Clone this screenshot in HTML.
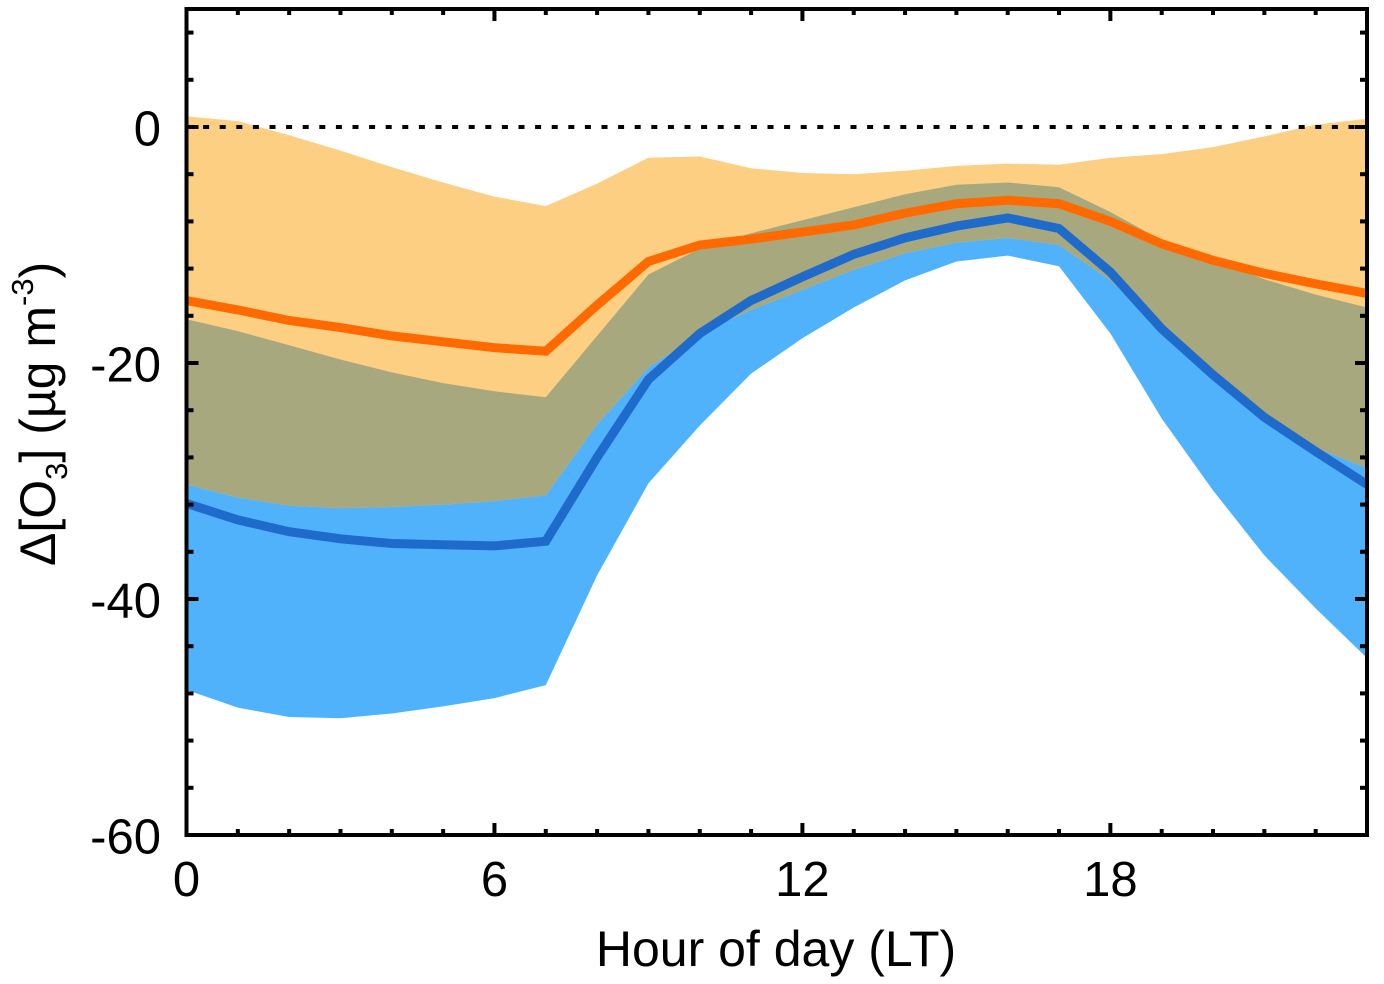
<!DOCTYPE html>
<html lang="en">
<head>
<meta charset="utf-8">
<title>Hourly ozone change</title>
<style>
html,body{margin:0;padding:0;background:#fff;}
svg{display:block;}
text{font-family:"Liberation Sans",sans-serif;fill:#000;}
</style>
</head>
<body>
<svg id="chart" xmlns="http://www.w3.org/2000/svg" width="1384" height="984" viewBox="0 0 1384 984">
  <defs>
    <clipPath id="plot-clip"><rect x="186.5" y="9" width="1181" height="826"/></clipPath>
    <clipPath id="orange-band-clip"><polygon id="orange-clip-shape" points=""/></clipPath>
  </defs>
  <g id="plot" clip-path="url(#plot-clip)"></g>
  <g id="axes"></g>
  <text x="776" y="966" text-anchor="middle" font-size="50">Hour of day (LT)</text>
  <text transform="translate(55,566) rotate(-90)" font-size="50">Δ[O<tspan font-size="31" dy="12">3</tspan><tspan dy="-12">] (µg m</tspan><tspan font-size="31" dy="-22">-3</tspan><tspan dy="22">)</tspan></text>
</svg>
<script>
const hours = [0,1,2,3,4,5,6,7,8,9,10,11,12,13,14,15,16,17,18,19,20,21,22,23];
const orangeUpper = [0.9,0.5,-0.7,-2,-3.4,-4.7,-5.9,-6.7,-4.8,-2.6,-2.5,-3.5,-3.9,-4,-3.7,-3.3,-3.1,-3.2,-2.6,-2.3,-1.7,-0.8,0.2,0.7];
const orangeLower = [-30.3,-31.4,-32.1,-32.3,-32.2,-32,-31.7,-31.2,-25.2,-20.4,-17.5,-15.5,-13.8,-12.1,-10.7,-9.8,-9.4,-10,-13,-17.1,-21,-24.6,-27.2,-28.9];
const blueUpper = [-16.3,-17.3,-18.5,-19.7,-20.8,-21.7,-22.4,-22.9,-17.7,-12.5,-10.3,-9,-7.9,-6.8,-5.7,-4.9,-4.7,-5.1,-7.2,-9.6,-11.2,-12.9,-14.2,-15.3];
const blueLower = [-47.7,-49.2,-50,-50.1,-49.7,-49.1,-48.4,-47.3,-38,-30.2,-25.3,-20.9,-17.9,-15.3,-13,-11.4,-10.9,-11.8,-17.5,-24.7,-30.8,-36.3,-40.8,-45];
const orangeMean = [-14.7,-15.5,-16.4,-17,-17.7,-18.2,-18.7,-19,-15.1,-11.4,-10,-9.5,-8.9,-8.3,-7.3,-6.5,-6.2,-6.5,-8,-9.9,-11.3,-12.4,-13.3,-14.1];
const blueMean = [-31.9,-33.3,-34.3,-34.9,-35.3,-35.4,-35.5,-35.1,-28,-21.4,-17.5,-14.7,-12.7,-10.8,-9.4,-8.4,-7.7,-8.6,-12.3,-17.1,-21,-24.6,-27.5,-30.3];
const xTickLabels = [0,6,12,18];
const yTickLabels = [0,-20,-40,-60];

const NS = 'http://www.w3.org/2000/svg';
const xScale = h => 186.5 + h * (1367 - 186.5) / 23;
const yScale = v => 127 - v * 11.8;
const plot = document.getElementById('plot');
const axes = document.getElementById('axes');

function make(tag, parent) {
  const el = document.createElementNS(NS, tag);
  parent.appendChild(el);
  return el;
}
function linePoints(series) {
  return series.map((v, i) => xScale(hours[i]).toFixed(1) + ',' + yScale(v).toFixed(1)).join(' ');
}
function bandPoints(upper, lower) {
  return linePoints(upper) + ' ' + lower.map((v, i) => [xScale(hours[i]).toFixed(1), yScale(v).toFixed(1)].join(',')).reverse().join(' ');
}

const blueBand = make('polygon', plot);


blueBand.setAttribute('points', bandPoints(blueUpper, blueLower));
blueBand.setAttribute('fill', '#50B2FB');

const orangeBand = make('polygon', plot);


orangeBand.setAttribute('points', bandPoints(orangeUpper, orangeLower));
orangeBand.setAttribute('fill', '#FDCF83');

document.getElementById('orange-clip-shape').setAttribute('points', bandPoints(orangeUpper, orangeLower));

const overlapBand = make('polygon', plot);


overlapBand.setAttribute('points', bandPoints(blueUpper, blueLower));
overlapBand.setAttribute('clip-path', 'url(#orange-band-clip)');
overlapBand.setAttribute('fill', '#A8A87F');

const zeroLine = make('line', plot);


zeroLine.setAttribute('x1', xScale(0));
zeroLine.setAttribute('x2', xScale(23));
zeroLine.setAttribute('y1', yScale(0));
zeroLine.setAttribute('y2', yScale(0));
zeroLine.setAttribute('stroke', '#000');
zeroLine.setAttribute('stroke-width', '4');
zeroLine.setAttribute('stroke-dasharray', '6 10.6');

const blueLine = make('polyline', plot);


blueLine.setAttribute('points', linePoints(blueMean));
blueLine.setAttribute('fill', 'none');
blueLine.setAttribute('stroke', '#1F6BCB');
blueLine.setAttribute('stroke-width', '9');
blueLine.setAttribute('stroke-linejoin', 'miter');

const orangeLine = make('polyline', plot);


orangeLine.setAttribute('points', linePoints(orangeMean));
orangeLine.setAttribute('fill', 'none');
orangeLine.setAttribute('stroke', '#FF6A00');
orangeLine.setAttribute('stroke-width', '9');
orangeLine.setAttribute('stroke-linejoin', 'miter');

for (let h = 1; h < 23; h++) {
  const len = h % 6 === 0 ? 12 : 6;
  const bottomTick = make('line', axes);
  
  
  bottomTick.setAttribute('x1', xScale(h));
  bottomTick.setAttribute('x2', xScale(h));
  bottomTick.setAttribute('y1', 835);
  bottomTick.setAttribute('y2', 835 - len);
  bottomTick.setAttribute('stroke', '#000');
  bottomTick.setAttribute('stroke-width', '4');
  const topTick = make('line', axes);
  
  
  topTick.setAttribute('x1', xScale(h));
  topTick.setAttribute('x2', xScale(h));
  topTick.setAttribute('y1', 9);
  topTick.setAttribute('y2', 9 + len);
  topTick.setAttribute('stroke', '#000');
  topTick.setAttribute('stroke-width', '4');
}

for (let v = -56; v <= 8; v += 4) {
  const len = v % 20 === 0 ? 12 : 7;
  const leftTick = make('line', axes);
  
  
  leftTick.setAttribute('x1', 186.5);
  leftTick.setAttribute('x2', 186.5 + len);
  leftTick.setAttribute('y1', yScale(v));
  leftTick.setAttribute('y2', yScale(v));
  leftTick.setAttribute('stroke', '#000');
  leftTick.setAttribute('stroke-width', '4');
  const rightTick = make('line', axes);
  
  
  rightTick.setAttribute('x1', 1367);
  rightTick.setAttribute('x2', 1367 - len);
  rightTick.setAttribute('y1', yScale(v));
  rightTick.setAttribute('y2', yScale(v));
  rightTick.setAttribute('stroke', '#000');
  rightTick.setAttribute('stroke-width', '4');
}

const frame = make('rect', axes);


frame.setAttribute('x', 186.5);
frame.setAttribute('y', 9);
frame.setAttribute('width', 1180.5);
frame.setAttribute('height', 826);
frame.setAttribute('fill', 'none');
frame.setAttribute('stroke', '#000');
frame.setAttribute('stroke-width', '4');

xTickLabels.forEach(h => {
  const label = make('text', axes);
  
  
  label.setAttribute('x', xScale(h));
  label.setAttribute('y', 896);
  label.setAttribute('text-anchor', 'middle');
  label.setAttribute('font-size', '49');
  label.textContent = h;
});

yTickLabels.forEach(v => {
  const label = make('text', axes);
  
  
  label.setAttribute('x', 161);
  label.setAttribute('y', yScale(v) + 18.5);
  label.setAttribute('text-anchor', 'end');
  label.setAttribute('font-size', '49');
  label.textContent = v;
});
</script>
</body>
</html>
